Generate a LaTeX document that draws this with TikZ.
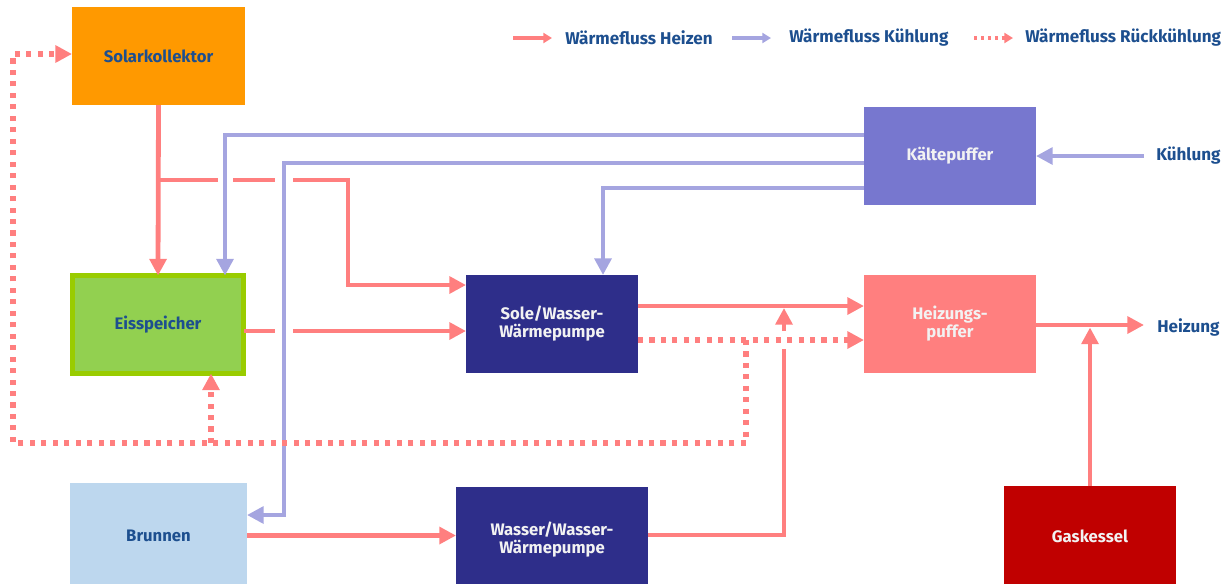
\documentclass[tikz,border=0pt]{standalone}
\usepackage{fontspec}
\setmainfont{Fira Sans}
\usetikzlibrary{arrows.meta,calc}
\definecolor{pinkc}{HTML}{FF7F7F}
\definecolor{bluec}{HTML}{A5A5E0}
\definecolor{txtblue}{HTML}{1D4F8F}
\definecolor{orangec}{HTML}{FF9900}
\definecolor{greenc}{HTML}{92D050}
\definecolor{greenb}{HTML}{99CC00}
\definecolor{lightblue}{HTML}{BDD7EE}
\definecolor{navyc}{HTML}{2E2E8A}
\definecolor{violetc}{HTML}{7777CF}
\definecolor{redc}{HTML}{C00000}
\definecolor{whitetxt}{HTML}{F2F2F2}
\tikzset{
  lbl/.style={font=\bfseries\fontsize{12.8}{14}\selectfont, text=txtblue, inner sep=0pt},
  box/.style={rectangle, inner sep=0pt, outer sep=0pt, align=center,
    font=\bfseries\fontsize{12.5}{13.5}\selectfont},
  heat/.style={draw=pinkc, line width=3.6pt},
  cool/.style={draw=bluec, line width=3.6pt},
  dotline/.style={draw=pinkc, line width=3.8pt, dash pattern=on 3.8pt off 4.8pt},
  tip/.style={-{Triangle[length=12.5pt,width=12.5pt]}},
  ltip/.style={-{Triangle[length=6.5pt,width=7.5pt]}},
}
\begin{document}
\begin{tikzpicture}[x=0.75pt,y=-0.75pt]
\useasboundingbox (0,0) rectangle (1227,583);
% boxes
\node[box, fill=orangec, text=txtblue, minimum width=129.75pt, minimum height=73.5pt] (solar) at (158.5,56) {Solarkollektor};
\node[box, fill=greenc, draw=greenb, line width=3.75pt, text=txtblue, minimum width=128.25pt, minimum height=73.5pt] (eis) at (158,324.5) {Eisspeicher};
\node[box, fill=lightblue, text=txtblue, minimum width=132.75pt, minimum height=79.5pt] (brunnen) at (158.5,536) {Brunnen};
\node[box, fill=navyc, text=whitetxt, minimum width=129pt, minimum height=73.5pt] (sole) at (552,324) {Sole/Wasser-\\Wärmepumpe};
\node[box, fill=navyc, text=whitetxt, minimum width=144pt, minimum height=79.5pt] (ww) at (552,540) {Wasser/Wasser-\\Wärmepumpe};
\node[box, fill=violetc, text=whitetxt, minimum width=129pt, minimum height=73.5pt] (kaelte) at (950,156) {Kältepuffer};
\node[box, fill=pinkc, text=whitetxt, minimum width=129pt, minimum height=73.5pt] (heiz) at (950,324) {Heizungs-\\puffer};
\node[box, fill=redc, text=whitetxt, minimum width=129pt, minimum height=75pt] (gas) at (1090,536) {Gaskessel};
% outside labels
\node[lbl, anchor=west] (kuehl) at (1156,156) {Kühlung};
\node[lbl, anchor=west] (heizung) at (1157,327) {Heizung};
% legend
\coordinate (la1) at (513,38); \coordinate (la2) at (552,38);
\draw[draw=pinkc, line width=2.4pt, ltip] (la1) -- (la2);
\node[lbl, anchor=west] (lh) at (565,38) {Wärmefluss Heizen};
\coordinate (lb1) at (732,38); \coordinate (lb2) at (771,38);
\draw[draw=bluec, line width=2.4pt, ltip] (lb1) -- (lb2);
\node[lbl, anchor=west] (lk) at (789,38) {Wärmefluss Kühlung};
\coordinate (lc1) at (974,38); \coordinate (lc2) at (1013,38);
\draw[draw=pinkc, line width=2.6pt, dash pattern=on 2.6pt off 2.6pt, ltip] (lc1) -- (lc2);
\node[lbl, anchor=west] (lr) at (1025,38) {Wärmefluss Rückkühlung};
% coordinates
\coordinate (b1) at (158,180); \coordinate (b2) at (218,180);
\coordinate (b3) at (233,180); \coordinate (b4) at (275,180);
\coordinate (b5) at (293,180); \coordinate (b6) at (348,180);
\coordinate (b7) at (348,285);
\coordinate (k1) at (225,135); \coordinate (k2) at (284,163);
\coordinate (k2b) at (284,515); \coordinate (k3) at (603,188);
\coordinate (e1) at (275,331); \coordinate (e2) at (293,331);
\coordinate (s1) at (700,306); \coordinate (s2) at (700,340);
\coordinate (w1) at (784,535); \coordinate (w2) at (784,349);
\coordinate (w3) at (784,331); \coordinate (w4) at (784,308);
\coordinate (d1) at (746,340); \coordinate (d2) at (746,443);
\coordinate (d3) at (13,443); \coordinate (d4) at (13,54);
\coordinate (d5) at (211,443);
\coordinate (bw) at (300,535.5);
\coordinate (h1) at (1090,325); \coordinate (h2) at (1090,327.5);
% cooling flows (blue)
\draw[cool, tip] (kaelte.west |- k1) -- (k1) -- (eis.north -| k1);
\draw[cool, tip] (kaelte.west |- k2) -- (k2) -- (k2b) -- (brunnen.east |- k2b);
\draw[cool, tip] (kaelte.west |- k3) -- (k3) -- (sole.north -| k3);
\draw[cool, tip] ($(kuehl.west)+(-12,0)$) -- (kaelte.east);
% heating flows (pink)
\draw[heat, tip] (solar.south) -- (eis.north);
\draw[heat] (b1) -- (b2);
\draw[heat] (b3) -- (b4);
\draw[heat, tip] (b5) -- (b6) -- (b7) -- (sole.west |- b7);
\draw[heat] (eis.east |- e1) -- (e1);
\draw[heat, tip] (e2) -- (sole.west |- e2);
\draw[heat, tip] (sole.east |- s1) -- (heiz.west |- s1);
\draw[heat] (ww.east |- w1) -- (w1) -- (w2);
\draw[heat, tip] (w3) -- (w4);
\draw[heat, tip] (brunnen.east |- bw) -- (ww.west |- bw);
\draw[heat, tip] (heiz.east |- h1) -- ($(heizung.west |- h1)+(-13,0)$);
\draw[heat, tip] (gas.north) -- (h2);
% re-cooling flows (dotted)
\draw[dotline, tip] (sole.east |- s2) -- (heiz.west |- s2);
\draw[dotline, tip] (d1) -- (d2) -- (d3) -- (d4) -- (solar.west |- d4);
\draw[dotline, tip] (d5) -- (eis.south -| d5);
\end{tikzpicture}
\end{document}
